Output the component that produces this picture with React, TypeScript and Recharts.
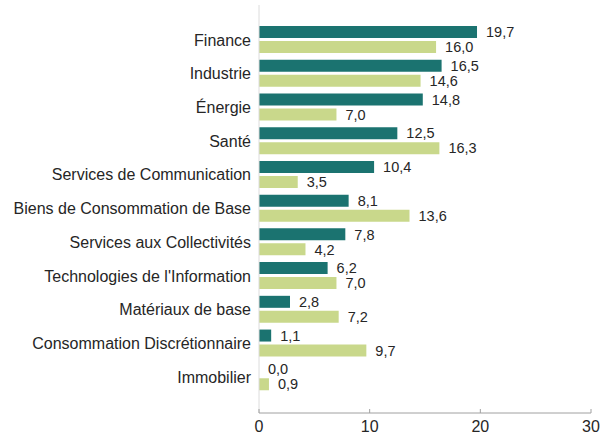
import React from 'react';
import { BarChart, Bar, XAxis, YAxis, LabelList } from 'recharts';

const sectors = [
  'Finance',
  'Industrie',
  'Énergie',
  'Santé',
  'Services de Communication',
  'Biens de Consommation de Base',
  'Services aux Collectivités',
  "Technologies de l'Information",
  'Matériaux de base',
  'Consommation Discrétionnaire',
  'Immobilier',
];
const portfolio = [19.7, 16.5, 14.8, 12.5, 10.4, 8.1, 7.8, 6.2, 2.8, 1.1, 0.0];
const benchmark = [16.0, 14.6, 7.0, 16.3, 3.5, 13.6, 4.2, 7.0, 7.2, 9.7, 0.9];
const xTicks = [0, 10, 20, 30];

const DARK = '#1b7370';
const LIGHT = '#c9d88b';
const TEXT = '#262626';
const FONT = '"Liberation Sans", Arial, sans-serif';

const data = sectors.map((name, i) => ({
  name,
  portfolio: portfolio[i],
  benchmark: benchmark[i],
}));

const fmt = (v: any) => Number(v).toFixed(1).replace('.', ',');

const App: React.FC = () => {
  return (
    <div style={{ position: 'absolute', left: 0, top: 0, width: 602, height: 436, background: '#fff', fontFamily: FONT }}>
      <BarChart
        layout="vertical"
        width={602}
        height={436}
        data={data}
        margin={{ top: 5, right: 11, left: 0, bottom: 0 }}
        barSize={12}
        barGap={3}
      >
        <YAxis
          type="category"
          dataKey="name"
          width={259}
          tickLine={false}
          tickMargin={2}
          stroke="#dcdcdc"
          padding={{ top: 18, bottom: 19 }}
          interval={0}
          tick={{ fill: TEXT, fontSize: 16, fontFamily: FONT }}
        />
        <XAxis
          type="number"
          domain={[0, 30]}
          ticks={xTicks}
          height={23}
          tickSize={-4}
          tickMargin={12}
          stroke="#a0a0a0"
          tick={{ fill: TEXT, fontSize: 16, fontFamily: FONT }}
        />
        <Bar dataKey="portfolio" name="Portefeuille" fill={DARK} minPointSize={0.01} isAnimationActive={false}>
          <LabelList dataKey="portfolio" position="right" offset={9} formatter={fmt} style={{ fill: TEXT, fontSize: 14.5, fontFamily: FONT }} />
        </Bar>
        <Bar dataKey="benchmark" name="Indice" fill={LIGHT} isAnimationActive={false}>
          <LabelList dataKey="benchmark" position="right" offset={9} formatter={fmt} style={{ fill: TEXT, fontSize: 14.5, fontFamily: FONT }} />
        </Bar>
      </BarChart>
    </div>
  );
};

export default App;
